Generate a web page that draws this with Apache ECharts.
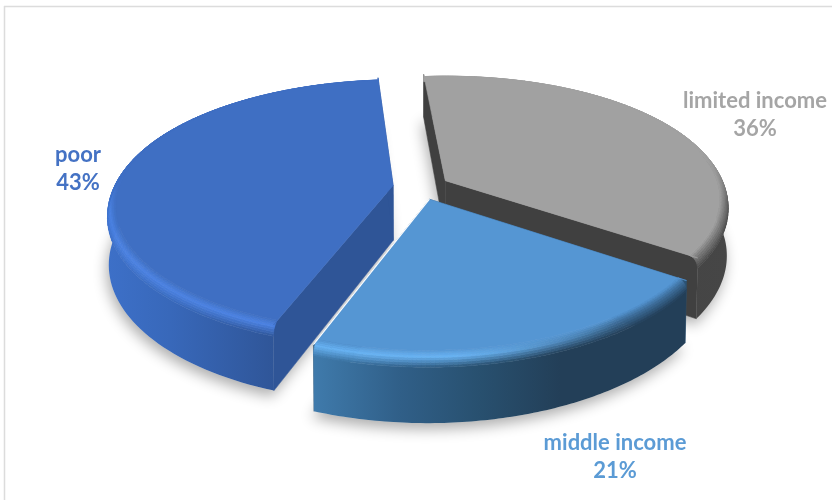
<!DOCTYPE html>
<html><head><meta charset="utf-8">
<style>html,body{margin:0;padding:0;background:#fff}#c{width:832px;height:500px}</style>
<script src="https://cdn.jsdelivr.net/npm/echarts@6/dist/echarts.min.js"></script>
</head><body><div id="c"></div>
<script>
// data
const categories = ['poor', 'limited income', 'middle income'];
const shares = [43, 36, 21];
// styles (one per category)
const faceColors = ['#3f6fc3', '#a1a1a1', '#5596d3'];
const brightColors = ['#4b82e2', '#b8b8b8', '#68b2f2'];
const labelColors = ['#4472C4', '#A5A5A5', '#5B9BD5'];
const wallColors = ['#2f5597', '#404040', '#2a5274'];
// side shading, as [screen x, colour]
const sideStops = [
  [[107, '#3d70c8'], [170, '#3868ba'], [278, '#2f5597']],
  [[440, '#404040'], [730, '#464646']],
  [[315, '#3f7aab'], [400, '#305f88'], [480, '#28506f'], [560, '#233f58'], [690, '#233f58']]
];
const labelAnchor = [[78, 169], [755, 115], [615, 457]];
// projection settings
const view = { cx: 417.5, cy: 187, R: 282, k: 126.3, py: 0.165, px: 0.15, shear: 3.5, shrink: 0.005, h0: 55, h1: 12, explode: 0.1, startDeg: 200 };
const bevel = { width: 0.03, height: 0.17, strips: 8 };
const ARC_STEPS = 96;

const total = shares.reduce((a, b) => a + b, 0);
function hex(c) { return [1, 3, 5].map(i => parseInt(c.substr(i, 2), 16)); }
function mix(a, b, t) {
  t = Math.max(0, Math.min(1, t));
  const A = hex(a), B = hex(b);
  return '#' + A.map((v, i) => Math.round(v + (B[i] - v) * t).toString(16).padStart(2, '0')).join('');
}
function stopColor(stops, x) {
  if (x <= stops[0][0]) return stops[0][1];
  for (let i = 1; i < stops.length; i++) {
    if (x <= stops[i][0]) return mix(stops[i - 1][1], stops[i][1], (x - stops[i - 1][0]) / (stops[i][0] - stops[i - 1][0]));
  }
  return stops[stops.length - 1][1];
}
function clamp(v) { return Math.max(0, Math.min(1, v)); }

function renderSlice(params, api) {
  const i = params.dataIndex;
  const val = api.value(0);
  let before = 0;
  for (let j = 0; j < i; j++) before += shares[j];
  const a0 = (view.startDeg + before / total * 360) * Math.PI / 180;
  const a1 = a0 + val / total * 2 * Math.PI;
  const mid = (a0 + a1) / 2;
  const ex = view.explode * Math.sin(mid), ed = -view.explode * Math.cos(mid);
  const P = (a, r, z) => {
    const X = ex + r * Math.sin(a), D = ed - r * Math.cos(a);
    const fx = 1 / (1 - view.px * D), fy = 1 / (1 - view.py * D), s = 1 - view.shrink * z;
    return [
      view.cx + view.R * X * fx * s + view.shear * (1 - D),
      view.cy + view.k * D * fy * s + z * (view.h0 + view.h1 * D)
    ];
  };
  const ang = t => a0 + (a1 - a0) * t;
  const kids = [];
  const z2 = i + 1;
  const poly = (pts, fill, stroke, lw) => kids.push({
    type: 'polygon', z2, shape: { points: pts },
    style: { fill, stroke: stroke || null, lineWidth: lw || 0 }
  });
  const face = faceColors[i], bright = brightColors[i];
  const stops = sideStops[i];

  // soft ground shadow
  const outline = [P(a0, 0, 1)];
  for (let n = 0; n <= ARC_STEPS; n++) outline.push(P(ang(n / ARC_STEPS), 1, 1));
  kids.push({
    type: 'polygon', z2: 0, shape: { points: outline },
    style: { fill: '#e0e0e0', shadowBlur: 14, shadowColor: 'rgba(0,0,0,0.32)', shadowOffsetX: -2, shadowOffsetY: 6 }
  });

  // cut walls
  const wc = wallColors[i];
  [a0, a1].forEach(a => poly([P(a, 0, 0), P(a, 1, 0), P(a, 1, 1), P(a, 0, 1)], wc, wc, 0.5));

  // outer side, one polygon with a horizontal gradient
  const x0 = stops[0][0], x1 = stops[stops.length - 1][0];
  const sideFill = new echarts.graphic.LinearGradient(x0, 0, x1, 0,
    stops.map(s => ({ offset: (s[0] - x0) / (x1 - x0), color: s[1] })), true);
  const sidePts = [];
  for (let n = 0; n <= ARC_STEPS; n++) sidePts.push(P(ang(n / ARC_STEPS), 1, bevel.height));
  for (let n = ARC_STEPS; n >= 0; n--) sidePts.push(P(ang(n / ARC_STEPS), 1, 1));
  poly(sidePts, sideFill);

  // rounded rim
  for (let n = 0; n < ARC_STEPS; n++) {
    const u = ang(n / ARC_STEPS), v = ang((n + 1) / ARC_STEPS), m = (u + v) / 2;
    const nx = Math.sin(m), nd = -Math.cos(m);
    const sc = stopColor(stops, P(m, 1, bevel.height)[0]);
    const L = clamp((nx * -0.6 + nd * 0.8 - 0.3) / 0.45);
    const hl = mix(mix(face, sc, 0.5), bright, L);
    const vis = clamp((nd + 0.25) / 0.4);
    for (let s = bevel.strips - 1; s >= 0; s--) {
      const t0 = s / bevel.strips, t1 = (s + 1) / bevel.strips, tm = (t0 + t1) / 2;
      const rz = t => [1 - bevel.width + bevel.width * Math.sin(t * Math.PI / 2), bevel.height * (1 - Math.cos(t * Math.PI / 2))];
      const A = rz(t0), B = rz(t1);
      const raw = tm < 0.45 ? mix(face, hl, tm / 0.45) : mix(hl, sc, (tm - 0.45) / 0.55);
      const c = mix(face, raw, vis);
      poly([P(u, A[0], A[1]), P(v, A[0], A[1]), P(v, B[0], B[1]), P(u, B[0], B[1])], c, c, 0.7);
    }
  }
  // top face
  const top = [P(a0, 0, 0), P(a0, 1, 0)];
  for (let n = 0; n <= ARC_STEPS; n++) top.push(P(ang(n / ARC_STEPS), 1 - bevel.width, 0));
  top.push(P(a1, 1, 0));
  poly(top, face, face, 0.6);
  // thin light edge where this slice overlaps its neighbour
  if (i === 2) {
    kids.push({
      type: 'polyline', z2, shape: { points: [P(a1, 0, 0), P(a1, 1, 0)] },
      style: { stroke: '#ffffff', lineWidth: 1.2, fill: null }
    });
  }
  // label
  kids.push({
    type: 'text', z2: 10,
    style: {
      x: labelAnchor[i][0], y: labelAnchor[i][1],
      text: categories[i] + '\n' + Math.round(val / total * 100) + '%',
      font: 'bold 22px Lato, "Noto Sans", sans-serif',
      lineHeight: 28, fill: labelColors[i], align: 'center', verticalAlign: 'middle'
    }
  });
  return { type: 'group', children: kids };
}

const chart = echarts.init(document.getElementById('c'), null, { renderer: 'canvas' });
chart.setOption({
  animation: false,
  backgroundColor: '#ffffff',
  graphic: [
    { type: 'line', silent: true, shape: { x1: 4, y1: 6.5, x2: 832, y2: 6.5 }, style: { stroke: '#dcdcdc', lineWidth: 1.5 } },
    { type: 'line', silent: true, shape: { x1: 4.5, y1: 6, x2: 4.5, y2: 500 }, style: { stroke: '#dcdcdc', lineWidth: 1.5 } }
  ],
  series: [{
    type: 'custom',
    coordinateSystem: 'none',
    silent: true,
    renderItem: renderSlice,
    data: shares.map((v, i) => ({ name: categories[i], value: [v] }))
  }]
});
</script></body></html>
